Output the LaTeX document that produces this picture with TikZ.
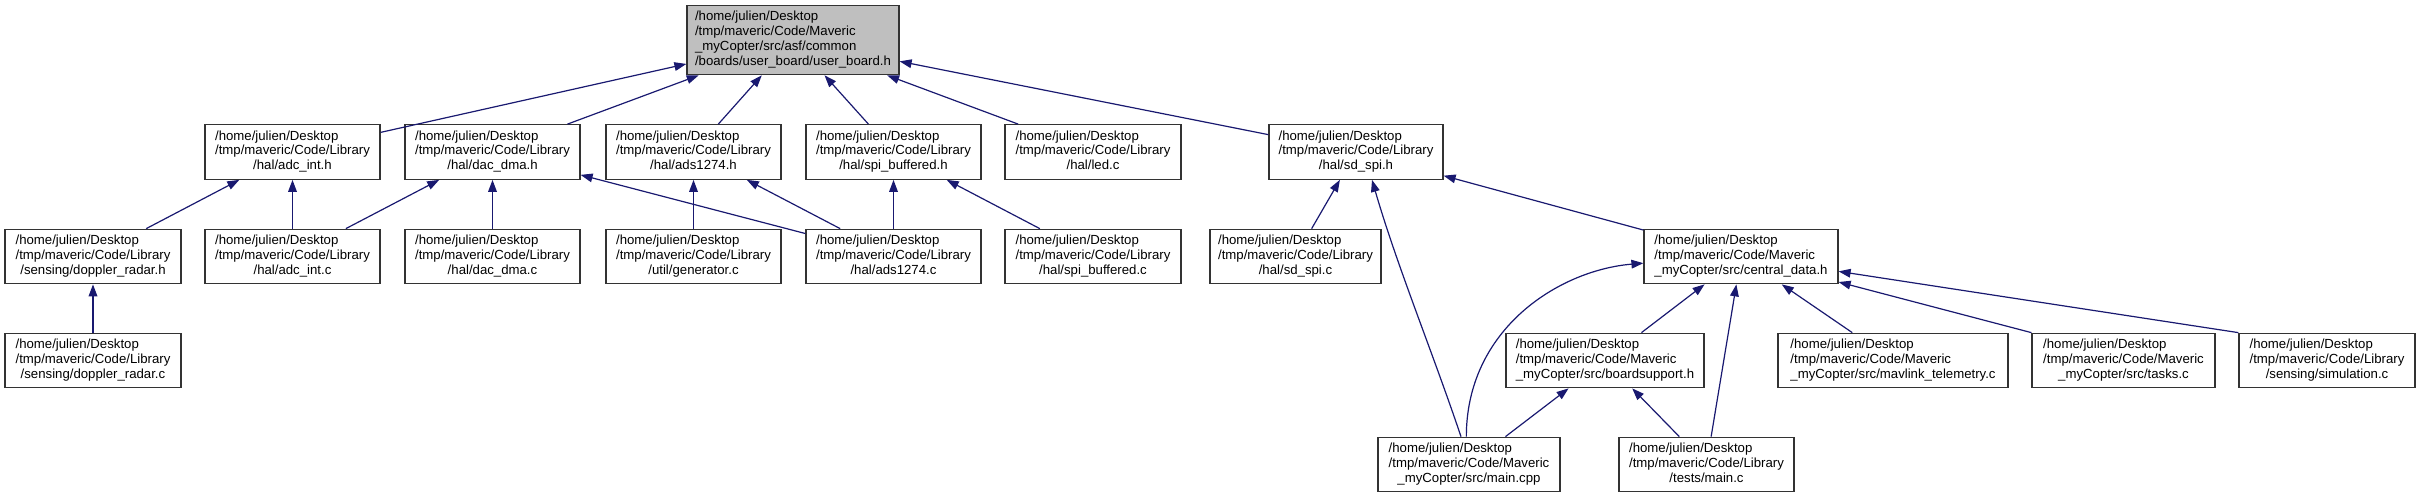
\documentclass[tikz,border=0pt]{standalone}
\usepackage{fontspec}
\setmainfont{Liberation Sans}
\usetikzlibrary{arrows.meta}

\definecolor{edgeblue}{HTML}{191970}
\definecolor{rootgray}{HTML}{BFBFBF}

% left-justified path lines, last line centred
\newcommand{\fpath}[2]{\begin{tabular}{@{}l@{}}#1\\\multicolumn{1}{@{}c@{}}{#2}\end{tabular}}

\tikzset{
  filenode/.style={draw=black!80,line width=0.9pt,fill=white,inner sep=0pt,
    minimum width=#1*0.75pt,minimum height=40.9pt,
    font=\fontsize{9.9}{11.2}\selectfont},
  rootnode/.style={filenode=#1,fill=rootgray,minimum height=51.75pt},
  incl/.style={draw=edgeblue,line width=0.9pt,
    -{Triangle[length=9pt,width=6.5pt]}}
}

\begin{document}
\begin{tikzpicture}[x=0.75pt,y=-0.75pt]
  \useasboundingbox (0,0) rectangle (2421,497);

  \node[rootnode=212] (userboard) at (793,40.2)
    {\fpath{/home/julien/Desktop\\/tmp/maveric/Code/Maveric\\\_myCopter/src/asf/common}{/boards/user\_board/user\_board.h}};

  % second row
  \node[filenode=175] (adcinth) at (292.5,152)
    {\fpath{/home/julien/Desktop\\/tmp/maveric/Code/Library}{/hal/adc\_int.h}};
  \node[filenode=175] (dacdmah) at (492.5,152)
    {\fpath{/home/julien/Desktop\\/tmp/maveric/Code/Library}{/hal/dac\_dma.h}};
  \node[filenode=175] (adsh) at (693.5,152)
    {\fpath{/home/julien/Desktop\\/tmp/maveric/Code/Library}{/hal/ads1274.h}};
  \node[filenode=175] (spibufh) at (893.5,152)
    {\fpath{/home/julien/Desktop\\/tmp/maveric/Code/Library}{/hal/spi\_buffered.h}};
  \node[filenode=176] (ledc) at (1093,152)
    {\fpath{/home/julien/Desktop\\/tmp/maveric/Code/Library}{/hal/led.c}};
  \node[filenode=174] (sdspih) at (1356,152)
    {\fpath{/home/julien/Desktop\\/tmp/maveric/Code/Library}{/hal/sd\_spi.h}};

  % third row
  \node[filenode=176] (dopplerh) at (93,256.5)
    {\fpath{/home/julien/Desktop\\/tmp/maveric/Code/Library}{/sensing/doppler\_radar.h}};
  \node[filenode=175] (adcintc) at (292.5,256.5)
    {\fpath{/home/julien/Desktop\\/tmp/maveric/Code/Library}{/hal/adc\_int.c}};
  \node[filenode=175] (dacdmac) at (492.5,256.5)
    {\fpath{/home/julien/Desktop\\/tmp/maveric/Code/Library}{/hal/dac\_dma.c}};
  \node[filenode=175] (generatorc) at (693.5,256.5)
    {\fpath{/home/julien/Desktop\\/tmp/maveric/Code/Library}{/util/generator.c}};
  \node[filenode=175] (adsc) at (893.5,256.5)
    {\fpath{/home/julien/Desktop\\/tmp/maveric/Code/Library}{/hal/ads1274.c}};
  \node[filenode=176] (spibufc) at (1093,256.5)
    {\fpath{/home/julien/Desktop\\/tmp/maveric/Code/Library}{/hal/spi\_buffered.c}};
  \node[filenode=171] (sdspic) at (1295.5,256.5)
    {\fpath{/home/julien/Desktop\\/tmp/maveric/Code/Library}{/hal/sd\_spi.c}};
  \node[filenode=194] (centralh) at (1741,256.5)
    {\fpath{/home/julien/Desktop\\/tmp/maveric/Code/Maveric}{\_myCopter/src/central\_data.h}};

  % fourth row
  \node[filenode=176] (dopplerc) at (93,360.5)
    {\fpath{/home/julien/Desktop\\/tmp/maveric/Code/Library}{/sensing/doppler\_radar.c}};
  \node[filenode=198] (boardh) at (1605,360.5)
    {\fpath{/home/julien/Desktop\\/tmp/maveric/Code/Maveric}{\_myCopter/src/boardsupport.h}};
  \node[filenode=230] (mavlinkc) at (1893,360.5)
    {\fpath{/home/julien/Desktop\\/tmp/maveric/Code/Maveric}{\_myCopter/src/mavlink\_telemetry.c}};
  \node[filenode=183] (tasksc) at (2123.5,360.5)
    {\fpath{/home/julien/Desktop\\/tmp/maveric/Code/Maveric}{\_myCopter/src/tasks.c}};
  \node[filenode=176] (simc) at (2327,360.5)
    {\fpath{/home/julien/Desktop\\/tmp/maveric/Code/Library}{/sensing/simulation.c}};

  % bottom row
  \node[filenode=182] (maincpp) at (1469,464.5)
    {\fpath{/home/julien/Desktop\\/tmp/maveric/Code/Maveric}{\_myCopter/src/main.cpp}};
  \node[filenode=175] (testmainc) at (1706.5,464.5)
    {\fpath{/home/julien/Desktop\\/tmp/maveric/Code/Library}{/tests/main.c}};

  % include edges, head at the included file
  \draw[incl] (adcinth) -- (userboard);
  \draw[incl] (dacdmah) -- (userboard);
  \draw[incl] (adsh) -- (userboard);
  \draw[incl] (spibufh) -- (userboard);
  \draw[incl] (ledc) -- (userboard);
  \draw[incl] (sdspih) -- (userboard);

  \draw[incl] (dopplerh) -- (adcinth);
  \draw[incl] (adcintc) -- (adcinth);
  \draw[incl] (adcintc) -- (dacdmah);
  \draw[incl] (dacdmac) -- (dacdmah);
  \draw[incl] (adsc) -- (dacdmah);
  \draw[incl] (generatorc) -- (adsh);
  \draw[incl] (adsc) -- (adsh);
  \draw[incl] (adsc) -- (spibufh);
  \draw[incl] (spibufc) -- (spibufh);
  \draw[incl] (dopplerc) -- (dopplerh);

  \draw[incl] (sdspic) -- (sdspih);
  \draw[incl] (centralh) -- (sdspih);
  \draw[incl] ([xshift=-6pt]maincpp.north) .. controls +(-29,-86) and +(25,86)
    .. ([xshift=12pt]sdspih.south);
  \draw[incl] ([xshift=-2pt]maincpp.north) .. controls +(0,-108) and +(-84,7)
    .. ([yshift=-5pt]centralh.west);
  \draw[incl] (boardh) -- (centralh);
  \draw[incl] (testmainc) -- (centralh);
  \draw[incl] (mavlinkc) -- (centralh);
  \draw[incl] (tasksc.north west) -- (centralh);
  \draw[incl] (simc.north west) -- (centralh);
  \draw[incl] (maincpp) -- (boardh);
  \draw[incl] (testmainc) -- (boardh);
\end{tikzpicture}
\end{document}
